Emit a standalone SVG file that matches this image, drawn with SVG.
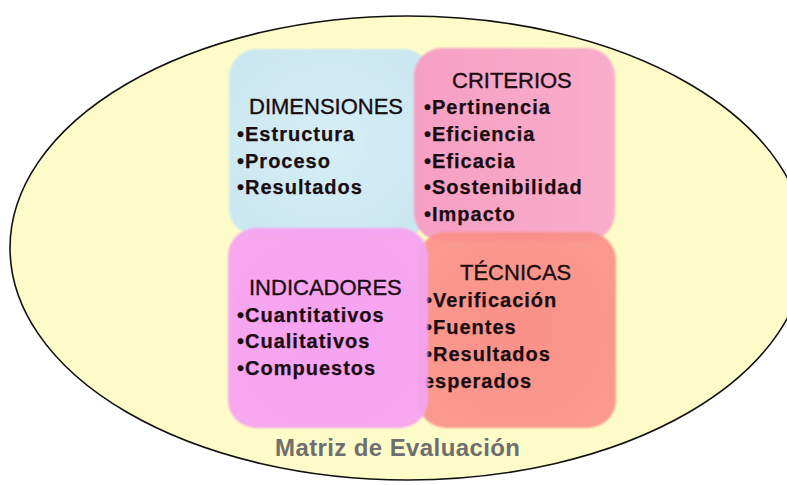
<svg xmlns="http://www.w3.org/2000/svg" width="787" height="485" viewBox="0 0 787 485">
<defs>
<filter id="soft" x="-10%" y="-10%" width="120%" height="120%"><feGaussianBlur stdDeviation="1.2"/></filter>
<radialGradient id="gBlue" cx="50%" cy="50%" r="60%"><stop offset="0" stop-color="#d6eef6"/><stop offset="1" stop-color="#cbe7f1"/></radialGradient>
<linearGradient id="gPink" x1="0" y1="0" x2="1" y2="0"><stop offset="0" stop-color="#f7a0c3"/><stop offset="1" stop-color="#f9adca"/></linearGradient>
<radialGradient id="gMag" cx="50%" cy="50%" r="60%"><stop offset="0" stop-color="#f79ef3"/><stop offset="1" stop-color="#f6a3f0"/></radialGradient>
<radialGradient id="gSal" cx="50%" cy="50%" r="60%"><stop offset="0" stop-color="#f98580"/><stop offset="1" stop-color="#fa8f88"/></radialGradient>
</defs>
<style>
.hd{font-family:"Liberation Sans",Arial,sans-serif;font-size:22px;fill:#1a0d12;stroke:#1a0d12;stroke-width:0.35px}
.it{font-family:"Liberation Sans",Arial,sans-serif;font-size:20px;font-weight:bold;letter-spacing:1px;fill:#1a0d12;stroke:#1a0d12;stroke-width:0.25px}
.ttl{font-family:"Liberation Sans",Arial,sans-serif;font-size:24px;font-weight:bold;letter-spacing:0.4px;fill:#6e6e6e}
</style>
<rect width="787" height="485" fill="#ffffff"/>
<g id="matriz">
<ellipse cx="408" cy="248" rx="398" ry="232" fill="#fdfcc9" stroke="#111" stroke-width="1.6"/>
<text class="ttl" x="275" y="456">Matriz de Evaluación</text>
</g>
<g id="connectors"></g>
<g id="dimensiones">
<rect x="229" y="49" width="202" height="187" rx="28" fill="url(#gBlue)" filter="url(#soft)"/>
<text class="hd" x="249" y="114">DIMENSIONES</text>
<text class="it" x="237" y="141">•Estructura</text>
<text class="it" x="237" y="168">•Proceso</text>
<text class="it" x="237" y="194">•Resultados</text>
</g>
<g id="criterios">
<rect x="414" y="48" width="201" height="193" rx="28" fill="url(#gPink)" filter="url(#soft)"/>
<text class="hd" x="452" y="88">CRITERIOS</text>
<text class="it" x="424" y="114">•Pertinencia</text>
<text class="it" x="424" y="141">•Eficiencia</text>
<text class="it" x="424" y="168">•Eficacia</text>
<text class="it" x="424" y="194">•Sostenibilidad</text>
<text class="it" x="424" y="221">•Impacto</text>
</g>
<g id="tecnicas">
<rect x="418" y="232" width="198" height="196" rx="28" fill="url(#gSal)" fill-opacity="0.9" filter="url(#soft)"/>
<text class="hd" x="460" y="280">TÉCNICAS</text>
<text class="it" x="425" y="307">•Verificación</text>
<text class="it" x="425" y="334">•Fuentes</text>
<text class="it" x="425" y="361">•Resultados</text>
<text class="it" x="423" y="388">esperados</text>
</g>
<g id="indicadores">
<rect x="228" y="228" width="200" height="200" rx="28" fill="url(#gMag)" fill-opacity="0.95" filter="url(#soft)"/>
<text class="hd" x="249" y="295">INDICADORES</text>
<text class="it" x="237" y="322">•Cuantitativos</text>
<text class="it" x="237" y="348">•Cualitativos</text>
<text class="it" x="237" y="375">•Compuestos</text>
</g>
</svg>
